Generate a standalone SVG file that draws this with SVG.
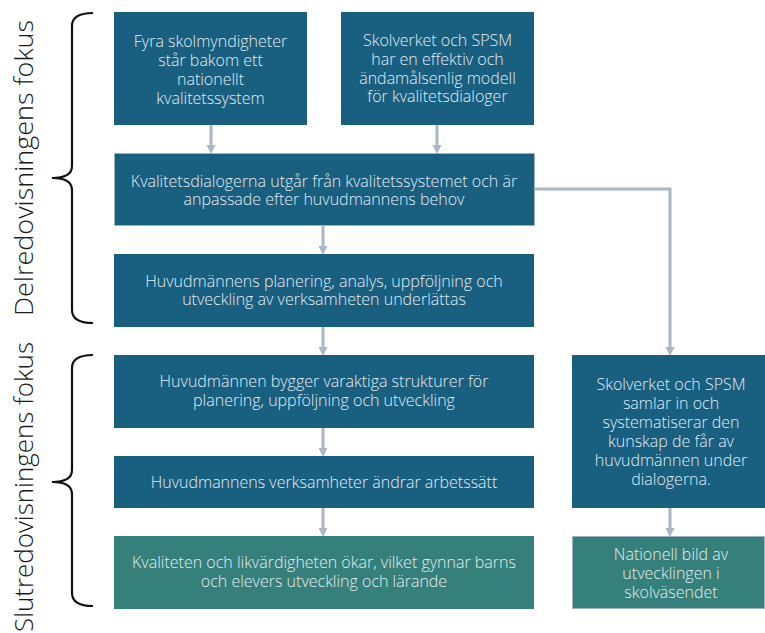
<svg xmlns="http://www.w3.org/2000/svg" width="765" height="633" viewBox="0 0 765 633">
<defs>
<style>
.blue{fill:#185f80}
.green{fill:#35807a}
.edge{stroke:#9fb1c1;stroke-width:1}
.t{font-family:"Open Sans","Liberation Sans",sans-serif;font-size:16px;font-weight:300;fill:#e4ecf1;text-anchor:middle}
.side{font-family:"Open Sans","Liberation Sans",sans-serif;font-size:26px;font-weight:300;fill:#1a1a1a;text-anchor:middle}
.conn{stroke:#abb7c4;stroke-width:3;fill:none}
.brace{stroke:#111;stroke-width:2.2;fill:none}
</style>
<marker id="ah" markerUnits="userSpaceOnUse" markerWidth="9" markerHeight="10" refX="0" refY="5" orient="auto">
<path d="M0,0.5 L9,5 L0,9.5 z" fill="#abb7c4"/>
</marker>
</defs>
<rect width="765" height="633" fill="#ffffff"/>

<g id="labels">
<text class="side" transform="translate(33,168) rotate(-90)" textLength="296" lengthAdjust="spacingAndGlyphs">Delredovisningens fokus</text>
<text class="side" transform="translate(33,487) rotate(-90)" textLength="290" lengthAdjust="spacingAndGlyphs">Slutredovisningens fokus</text>
</g>

<g id="braces">
<path class="brace" d="M93,13 Q72,13 72,26 L72,166 Q72,178 52,178 Q72,178 72,190 L72,310 Q72,323 93,323"/>
<path class="brace" d="M93,355 Q72,355 72,368 L72,470 Q72,482 52,482 Q72,482 72,494 L72,593 Q72,606 93,606"/>
</g>

<g id="connectors">
<line class="conn" x1="211" y1="125" x2="211" y2="145" marker-end="url(#ah)"/>
<line class="conn" x1="437" y1="125" x2="437" y2="145" marker-end="url(#ah)"/>
<line class="conn" x1="323" y1="225" x2="323" y2="246" marker-end="url(#ah)"/>
<line class="conn" x1="323" y1="327" x2="323" y2="347" marker-end="url(#ah)"/>
<line class="conn" x1="323" y1="428" x2="323" y2="448" marker-end="url(#ah)"/>
<line class="conn" x1="323" y1="508" x2="323" y2="528" marker-end="url(#ah)"/>
<polyline class="conn" points="534,189 670,189 670,347" marker-end="url(#ah)"/>
<line class="conn" x1="670" y1="508" x2="670" y2="528" marker-end="url(#ah)"/>
</g>

<g id="n1">
<rect class="blue" x="114" y="12" width="193" height="113"/>
<text class="t" x="210.5" y="47">Fyra skolmyndigheter</text>
<text class="t" x="210.5" y="66">står bakom ett</text>
<text class="t" x="210.5" y="85">nationellt</text>
<text class="t" x="210.5" y="104">kvalitetssystem</text>
</g>

<g id="n2">
<rect class="blue" x="341" y="12" width="193" height="113"/>
<text class="t" x="437.5" y="46">Skolverket och SPSM</text>
<text class="t" x="437.5" y="65">har en effektiv och</text>
<text class="t" x="437.5" y="84">ändamålsenlig modell</text>
<text class="t" x="437.5" y="102">för kvalitetsdialoger</text>
</g>

<g id="n3">
<rect class="blue edge" x="114.5" y="153.5" width="420" height="72"/>
<text class="t" x="324" y="187">Kvalitetsdialogerna utgår från kvalitetssystemet och är</text>
<text class="t" x="324" y="205">anpassade efter huvudmannens behov</text>
</g>

<g id="n4">
<rect class="blue" x="114" y="254" width="420" height="73"/>
<text class="t" x="324" y="287">Huvudmännens planering, analys, uppföljning och</text>
<text class="t" x="324" y="305">utveckling av verksamheten underlättas</text>
</g>

<g id="n5">
<rect class="blue" x="114" y="355" width="420" height="73"/>
<text class="t" x="324" y="387">Huvudmännen bygger varaktiga strukturer för</text>
<text class="t" x="324" y="406">planering, uppföljning och utveckling</text>
</g>

<g id="n6">
<rect class="blue" x="114" y="456" width="420" height="52"/>
<text class="t" x="324" y="488">Huvudmannens verksamheter ändrar arbetssätt</text>
</g>

<g id="n7">
<rect class="green" x="114" y="536" width="420" height="73"/>
<text class="t" x="324" y="568">Kvaliteten och likvärdigheten ökar, vilket gynnar barns</text>
<text class="t" x="324" y="587">och elevers utveckling och lärande</text>
</g>

<g id="n8">
<rect class="blue" x="572" y="355" width="193" height="153"/>
<text class="t" x="671" y="390">Skolverket och SPSM</text>
<text class="t" x="671" y="409">samlar in och</text>
<text class="t" x="671" y="428">systematiserar den</text>
<text class="t" x="671" y="447">kunskap de får av</text>
<text class="t" x="671" y="466">huvudmännen under</text>
<text class="t" x="671" y="485">dialogerna.</text>
</g>

<g id="n9">
<rect class="green edge" x="572.5" y="536.5" width="192" height="72"/>
<text class="t" x="671" y="560">Nationell bild av</text>
<text class="t" x="671" y="579">utvecklingen i</text>
<text class="t" x="671" y="598">skolväsendet</text>
</g>
</svg>
